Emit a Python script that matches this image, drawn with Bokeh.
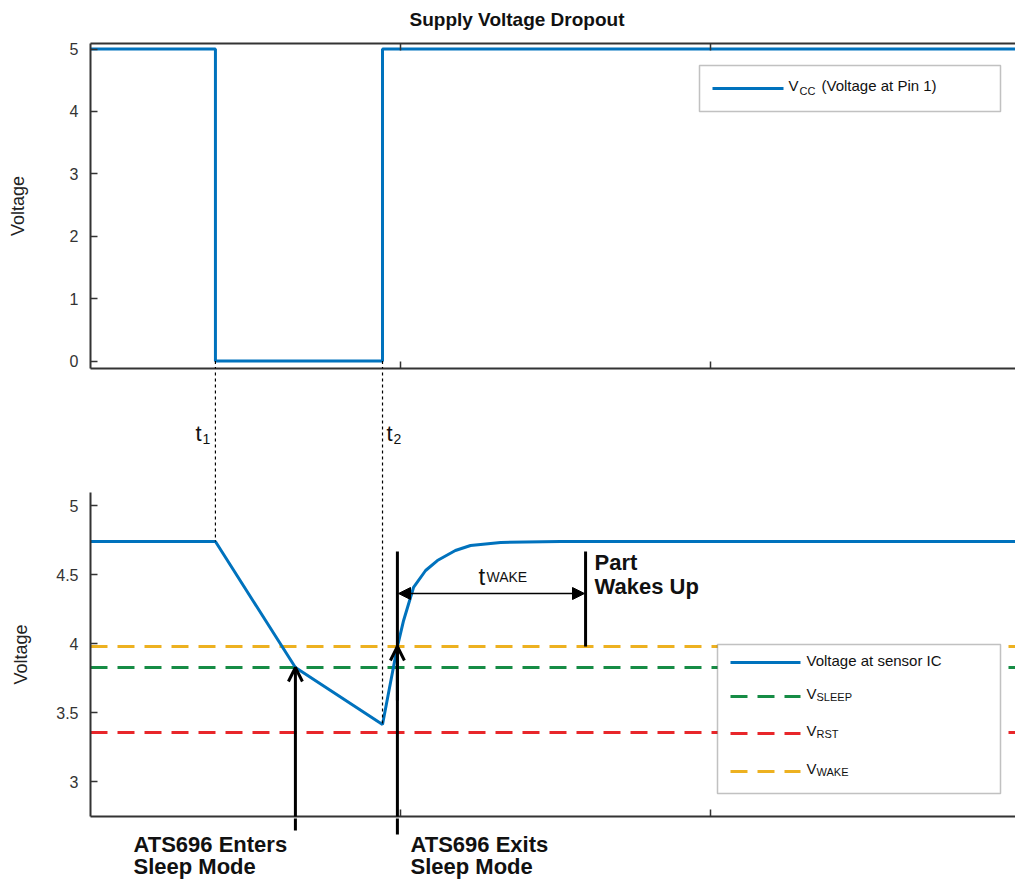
from bokeh.plotting import figure
from bokeh.layouts import column
from bokeh.models import (Range1d, FixedTicker, Label, Arrow, OpenHead, NormalHead,
                          BoxAnnotation, LinearAxis)
from bokeh.embed import file_html
from bokeh.resources import INLINE

# ---------------- data ----------------
t_events = [0.403, 0.942]                       # t1, t2
vcc_x = [0.0, 0.403, 0.403, 0.942, 0.942, 2.984]
vcc_y = [5.0, 5.0, 0.0, 0.0, 5.0, 5.0]
sensor_x = [0.0, 0.403, 0.661, 0.942, 0.990, 1.010, 1.042, 1.081, 1.119,
            1.177, 1.226, 1.323, 1.516, 2.984]
sensor_y = [4.739, 4.739, 3.826, 3.413, 3.978, 4.167, 4.406, 4.529, 4.601,
            4.674, 4.710, 4.732, 4.739, 4.739]
v_sleep = 3.826
v_rst = 3.355
v_wake = 3.978
t_wake_start = 0.990
t_wake_end = 1.597
top_yticks = [0, 1, 2, 3, 4, 5]
bot_yticks = [3, 3.5, 4, 4.5, 5]
bot_ytick_labels = ["3", "3.5", "4", "4.5", "5"]
xticks = [1, 2]

# ---------------- geometry helpers (window pixels -> data) ----------------
W = 1015
X0 = 925 / 310.0
SHIFT = 7   # measured baseline offset of rendered labels
def X(px):
    return (px - 90) / 310.0
def YT(py):
    return (360.5 - py) / 62.4
def YB(py):
    return 5 - (py - 505) / 138.0
def YS(py):
    return py

FONT = "Liberation Sans"
BLUE = "#0072BD"
GREEN = "#168C45"
RED = "#E8262A"
YELLOW = "#EDB120"
AX = "#333333"

def style_axis(ax, hide_labels=False):
    ax.axis_line_color = AX
    ax.axis_line_width = 2
    ax.major_tick_in = 7
    ax.major_tick_out = 0
    ax.major_tick_line_color = AX
    ax.major_tick_line_width = 1.5
    ax.minor_tick_line_color = None
    ax.major_label_text_font = FONT
    ax.major_label_text_font_size = "16px"
    ax.major_label_text_color = AX
    ax.major_label_standoff = 12
    ax.axis_label_text_font = FONT
    ax.axis_label_text_font_size = "18px"
    ax.axis_label_text_font_style = "normal"
    ax.axis_label_text_color = "#222222"
    if hide_labels:
        ax.major_label_overrides = {t: "" for t in xticks}
        ax.major_label_text_font_size = "0px"
        ax.major_label_standoff = 0

def lab(p, px, py, text, size, Y, bold=False):
    p.add_layout(Label(x=X(px), y=Y(py - SHIFT), text=text, text_font=FONT,
                       text_font_size=f"{size}px",
                       text_font_style="bold" if bold else "normal",
                       text_align="left", text_baseline="alphabetic",
                       text_color="#111111"))

def seg(p, x0, y0, x1, y1, color="black", width=3, dash="solid", start=None, end=None):
    p.add_layout(Arrow(x_start=x0, y_start=y0, x_end=x1, y_end=y1, start=start, end=end,
                       line_color=color, line_width=width, line_dash=dash))

def clean(p):
    p.outline_line_color = None
    p.background_fill_color = "white"
    p.border_fill_color = "white"
    p.xgrid.visible = False
    p.ygrid.visible = False
    return p

def plot_fig(height, y_range, mb_top, mb_bottom):
    p = figure(width=W, height=height, x_range=Range1d(0, X0), y_range=y_range,
               output_backend="svg", toolbar_location=None, title=None,
               min_border_left=90, min_border_right=0,
               min_border_top=mb_top, min_border_bottom=mb_bottom)
    return clean(p)

def strip_fig(y_top, y_bot):
    p = figure(width=W, height=y_bot - y_top, x_range=Range1d(0, X0),
               y_range=Range1d(y_bot, y_top), x_axis_location=None, y_axis_location=None,
               output_backend="svg", toolbar_location=None, title=None,
               min_border_left=90, min_border_right=0,
               min_border_top=0, min_border_bottom=0)
    return clean(p)

# ---------------- title strip (0..32) ----------------
ts = strip_fig(0, 32)
lab(ts, 409, 26, "Supply Voltage Dropout", 19, YS, bold=True)

# ---------------- top plot (32..370, frame 43..368) ----------------
top = plot_fig(338, Range1d(YT(368), YT(43)), 11, 2)
top.line(vcc_x, vcc_y, line_color=BLUE, line_width=3)
top.yaxis.ticker = FixedTicker(ticks=top_yticks)
top.xaxis.ticker = FixedTicker(ticks=xticks)
top.yaxis.axis_label = "Voltage"
style_axis(top.yaxis[0])
top.yaxis[0].axis_label_standoff = 39
style_axis(top.xaxis[0], hide_labels=True)
ax_above = LinearAxis(ticker=FixedTicker(ticks=xticks))
style_axis(ax_above, hide_labels=True)
top.add_layout(ax_above, "above")

top.add_layout(BoxAnnotation(left=X(699), right=X(1000), top=YT(65), bottom=YT(111),
                             fill_color="white", fill_alpha=1.0,
                             line_color=AX, line_width=1.5))
seg(top, X(712), YT(88), X(783), YT(88), color=BLUE, width=3)
lab(top, 788, 92, "V", 15, YT)
lab(top, 799, 97, "CC", 11, YT)
lab(top, 821, 92, "(Voltage at Pin 1)", 15, YT)
for t in t_events:
    seg(top, t, 0.0, t, YT(400), width=1.2, dash="3 3")

# ---------------- gap strip (370..492) ----------------
gap = strip_fig(370, 492)
for t in t_events:
    seg(gap, t, 360, t, 500, width=1.2, dash="3 3")
lab(gap, 195, 440, "t", 22, YS)
lab(gap, 202, 445, "1", 14, YS)
lab(gap, 386, 440, "t", 22, YS)
lab(gap, 393, 445, "2", 14, YS)

# ---------------- bottom plot (492..818, frame 492..816) ----------------
bot = plot_fig(326, Range1d(YB(816), YB(492)), 0, 2)
for v, c in ((v_sleep, GREEN), (v_rst, RED), (v_wake, YELLOW)):
    bot.line([0, X0], [v, v], line_color=c, line_width=3, line_dash="17 10")
bot.line(sensor_x, sensor_y, line_color=BLUE, line_width=3)
bot.yaxis.ticker = FixedTicker(ticks=bot_yticks)
bot.yaxis.major_label_overrides = {float(t): s for t, s in zip(bot_yticks, bot_ytick_labels)}
bot.xaxis.ticker = FixedTicker(ticks=xticks)
bot.yaxis.axis_label = "Voltage"
style_axis(bot.yaxis[0])
bot.yaxis[0].axis_label_standoff = 22
style_axis(bot.xaxis[0], hide_labels=True)

seg(bot, t_events[0], YB(480), t_events[0], sensor_y[1], width=1.2, dash="3 3")
seg(bot, t_events[1], YB(480), t_events[1], sensor_y[3], width=1.2, dash="3 3")

bot.add_layout(BoxAnnotation(left=X(717), right=X(1000), top=YB(644), bottom=YB(793),
                             fill_color="white", fill_alpha=1.0,
                             line_color=AX, line_width=1.5))
rows = [662, 696, 733, 771]
seg(bot, X(730), YB(rows[0]), X(800), YB(rows[0]), color=BLUE, width=3)
seg(bot, X(730), YB(rows[1]), X(800), YB(rows[1]), color=GREEN, width=3, dash="17 10")
seg(bot, X(730), YB(rows[2]), X(800), YB(rows[2]), color=RED, width=3, dash="17 10")
seg(bot, X(730), YB(rows[3]), X(800), YB(rows[3]), color=YELLOW, width=3, dash="17 10")
lab(bot, 806, rows[0] + 5, "Voltage at sensor IC", 15, YB)
for r, sub in zip(rows[1:], ["SLEEP", "RST", "WAKE"]):
    lab(bot, 806, r + 4, "V", 15, YB)
    lab(bot, 816, r + 7, sub, 11, YB)

seg(bot, t_wake_start, YB(840), t_wake_start, YB(551), width=3)
seg(bot, t_wake_end, v_wake, t_wake_end, YB(551), width=3)
seg(bot, X(398), YB(593), X(584), YB(593), width=1.5,
    start=NormalHead(size=12, fill_color="black", line_color="black"),
    end=NormalHead(size=12, fill_color="black", line_color="black"))
lab(bot, 478, 583, "t", 24, YB)
lab(bot, 486, 583, "WAKE", 14, YB)
lab(bot, 594, 569, "Part", 22, YB, bold=True)
lab(bot, 594, 593, "Wakes Up", 22, YB, bold=True)
seg(bot, sensor_x[2], YB(840), sensor_x[2], sensor_y[2], width=3,
    end=OpenHead(size=14, line_width=3, line_color="black"))
seg(bot, t_wake_start, YB(700), t_wake_start, v_wake, width=3,
    end=OpenHead(size=14, line_width=3, line_color="black"))

# ---------------- bottom text strip (818..880) ----------------
bt = strip_fig(818, 880)
seg(bt, sensor_x[2], 810, sensor_x[2], 830, width=3)
seg(bt, t_wake_start, 810, t_wake_start, 834, width=3)
lab(bt, 133, 851, "ATS696 Enters", 22, YS, bold=True)
lab(bt, 133, 873, "Sleep Mode", 22, YS, bold=True)
lab(bt, 410, 851, "ATS696 Exits", 22, YS, bold=True)
lab(bt, 410, 873, "Sleep Mode", 22, YS, bold=True)

layout = column(ts, top, gap, bot, bt, spacing=0)
open("out.html", "w").write(file_html(layout, INLINE))
